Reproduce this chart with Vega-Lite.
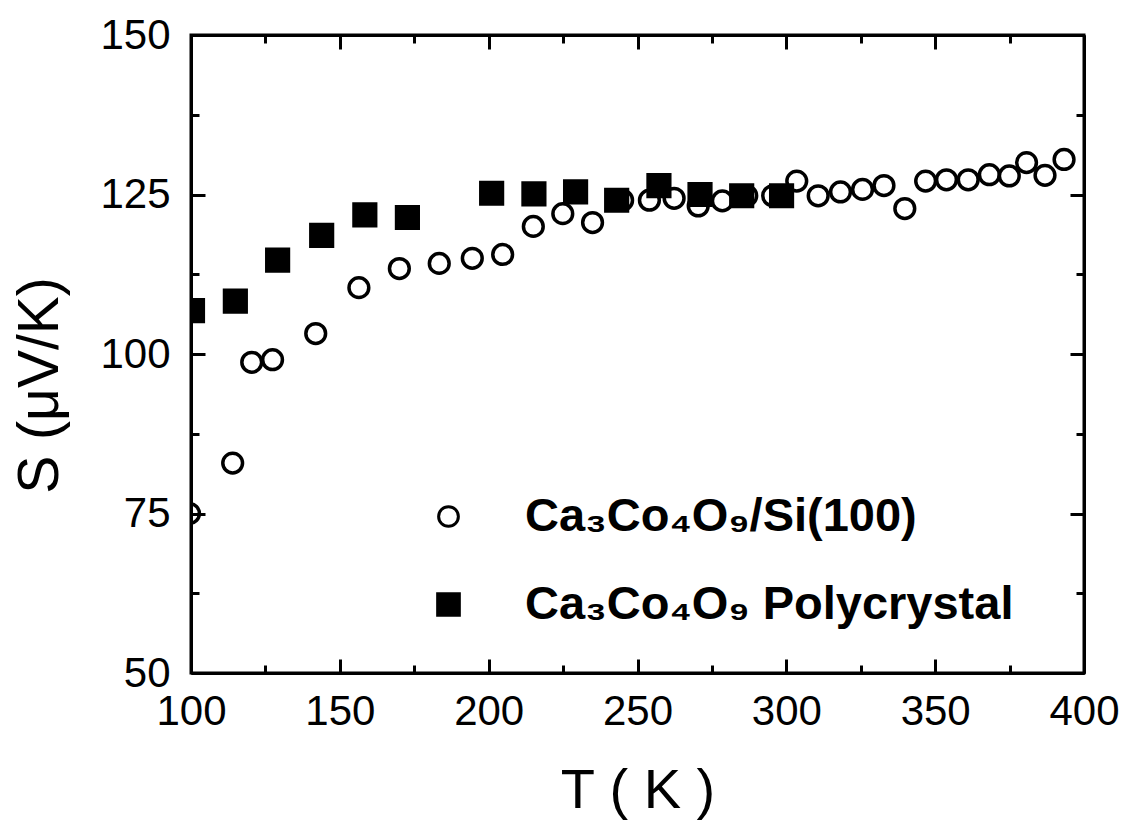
{
  "$schema": "https://vega.github.io/schema/vega-lite/v6.json",
  "width": 893,
  "height": 638,
  "autosize": {"type": "none"},
  "padding": {"left": 191, "top": 35, "right": 44, "bottom": 149},
  "background": "white",
  "config": {
    "view": {"stroke": "black", "strokeWidth": 3},
    "font": "Liberation Sans",
    "axis": {"labelFont": "Liberation Sans", "titleFont": "Liberation Sans"},
    "legend": {"labelFont": "Liberation Sans"}
  },
  "data": {
    "values": [
      {"series": "Ca₃Co₄O₉/Si(100)", "T": 99.5, "S": 75.0},
      {"series": "Ca₃Co₄O₉/Si(100)", "T": 114.0, "S": 82.9},
      {"series": "Ca₃Co₄O₉/Si(100)", "T": 120.4, "S": 98.7},
      {"series": "Ca₃Co₄O₉/Si(100)", "T": 127.4, "S": 99.1},
      {"series": "Ca₃Co₄O₉/Si(100)", "T": 141.9, "S": 103.2},
      {"series": "Ca₃Co₄O₉/Si(100)", "T": 156.4, "S": 110.4},
      {"series": "Ca₃Co₄O₉/Si(100)", "T": 170.0, "S": 113.4},
      {"series": "Ca₃Co₄O₉/Si(100)", "T": 183.4, "S": 114.2},
      {"series": "Ca₃Co₄O₉/Si(100)", "T": 194.5, "S": 115.0},
      {"series": "Ca₃Co₄O₉/Si(100)", "T": 204.7, "S": 115.6},
      {"series": "Ca₃Co₄O₉/Si(100)", "T": 215.0, "S": 120.0},
      {"series": "Ca₃Co₄O₉/Si(100)", "T": 224.9, "S": 122.0},
      {"series": "Ca₃Co₄O₉/Si(100)", "T": 234.9, "S": 120.6},
      {"series": "Ca₃Co₄O₉/Si(100)", "T": 245.0, "S": 124.1},
      {"series": "Ca₃Co₄O₉/Si(100)", "T": 254.0, "S": 124.1},
      {"series": "Ca₃Co₄O₉/Si(100)", "T": 262.3, "S": 124.4},
      {"series": "Ca₃Co₄O₉/Si(100)", "T": 270.4, "S": 123.2},
      {"series": "Ca₃Co₄O₉/Si(100)", "T": 278.5, "S": 124.0},
      {"series": "Ca₃Co₄O₉/Si(100)", "T": 286.7, "S": 124.8},
      {"series": "Ca₃Co₄O₉/Si(100)", "T": 295.4, "S": 124.8},
      {"series": "Ca₃Co₄O₉/Si(100)", "T": 303.5, "S": 127.1},
      {"series": "Ca₃Co₄O₉/Si(100)", "T": 310.7, "S": 124.8},
      {"series": "Ca₃Co₄O₉/Si(100)", "T": 318.2, "S": 125.4},
      {"series": "Ca₃Co₄O₉/Si(100)", "T": 325.6, "S": 125.8},
      {"series": "Ca₃Co₄O₉/Si(100)", "T": 332.8, "S": 126.4},
      {"series": "Ca₃Co₄O₉/Si(100)", "T": 339.8, "S": 122.8},
      {"series": "Ca₃Co₄O₉/Si(100)", "T": 346.8, "S": 127.1},
      {"series": "Ca₃Co₄O₉/Si(100)", "T": 353.8, "S": 127.3},
      {"series": "Ca₃Co₄O₉/Si(100)", "T": 361.1, "S": 127.3},
      {"series": "Ca₃Co₄O₉/Si(100)", "T": 368.2, "S": 128.1},
      {"series": "Ca₃Co₄O₉/Si(100)", "T": 374.9, "S": 127.9},
      {"series": "Ca₃Co₄O₉/Si(100)", "T": 380.7, "S": 130.0},
      {"series": "Ca₃Co₄O₉/Si(100)", "T": 386.9, "S": 128.0},
      {"series": "Ca₃Co₄O₉/Si(100)", "T": 393.3, "S": 130.5},
      {"series": "Ca₃Co₄O₉ Polycrystal", "T": 100.5, "S": 106.8},
      {"series": "Ca₃Co₄O₉ Polycrystal", "T": 114.9, "S": 108.3},
      {"series": "Ca₃Co₄O₉ Polycrystal", "T": 129.1, "S": 114.7},
      {"series": "Ca₃Co₄O₉ Polycrystal", "T": 143.9, "S": 118.6},
      {"series": "Ca₃Co₄O₉ Polycrystal", "T": 158.4, "S": 121.8},
      {"series": "Ca₃Co₄O₉ Polycrystal", "T": 172.7, "S": 121.4},
      {"series": "Ca₃Co₄O₉ Polycrystal", "T": 201.0, "S": 125.2},
      {"series": "Ca₃Co₄O₉ Polycrystal", "T": 215.2, "S": 125.1},
      {"series": "Ca₃Co₄O₉ Polycrystal", "T": 229.2, "S": 125.4},
      {"series": "Ca₃Co₄O₉ Polycrystal", "T": 243.0, "S": 124.1},
      {"series": "Ca₃Co₄O₉ Polycrystal", "T": 257.2, "S": 126.4},
      {"series": "Ca₃Co₄O₉ Polycrystal", "T": 271.0, "S": 125.0},
      {"series": "Ca₃Co₄O₉ Polycrystal", "T": 285.0, "S": 124.8},
      {"series": "Ca₃Co₄O₉ Polycrystal", "T": 298.4, "S": 124.8}
    ]
  },
  "layer": [
    {
      "mark": {"type": "point", "filled": false, "strokeWidth": 3.5, "opacity": 1, "clip": true},
      "encoding": {
        "x": {
          "field": "T", "type": "quantitative",
          "scale": {"domain": [100, 400], "nice": false, "zero": false},
          "axis": {
            "orient": "bottom",
            "values": [100, 125, 150, 175, 200, 225, 250, 275, 300, 325, 350, 375, 400],
            "tickSize": {"condition": {"test": "datum.value % 50 === 0", "value": -14}, "value": -8},
            "labelExpr": "datum.value % 50 === 0 ? datum.label : ''",
            "grid": false,
            "domainColor": "black", "domainWidth": 3,
            "tickColor": "black", "tickWidth": 3,
            "labelFont": "Liberation Sans", "labelFontSize": 42, "labelColor": "black",
            "labelPadding": 32, "labelFlush": false, "labelOverlap": false,
            "title": "T ( K )", "titleFont": "Liberation Sans", "titleFontSize": 56, "titleFontWeight": "normal",
            "titleColor": "black", "titlePadding": 25
          }
        },
        "y": {
          "field": "S", "type": "quantitative",
          "scale": {"domain": [50, 150], "nice": false, "zero": false},
          "axis": {
            "orient": "left",
            "values": [50, 62.5, 75, 87.5, 100, 112.5, 125, 137.5, 150],
            "tickSize": {"condition": {"test": "datum.value % 25 === 0", "value": -14}, "value": -8},
            "labelExpr": "datum.value % 25 === 0 ? datum.label : ''",
            "grid": false,
            "domainColor": "black", "domainWidth": 3,
            "tickColor": "black", "tickWidth": 3,
            "labelFont": "Liberation Sans", "labelFontSize": 42, "labelColor": "black",
            "labelPadding": 35, "labelFlush": false, "labelOverlap": false,
            "title": "S (μV/K)", "titleFont": "Liberation Sans", "titleFontSize": 57, "titleFontWeight": "normal",
            "titleColor": "black", "titlePadding": 30, "titleY": 350
          }
        },
        "shape": {
          "field": "series", "type": "nominal",
          "scale": {"domain": ["Ca₃Co₄O₉/Si(100)", "Ca₃Co₄O₉ Polycrystal"], "range": ["circle", "square"]},
          "legend": {
            "orient": "none", "legendX": 234, "legendY": 458, "title": null,
            "labelFont": "Liberation Sans", "labelFontSize": 47, "labelFontWeight": "bold", "labelColor": "black",
            "labelLimit": 0, "labelOffset": 53, "rowPadding": 40, "symbolStrokeWidth": 3
          }
        },
        "fill": {
          "field": "series", "type": "nominal",
          "scale": {"domain": ["Ca₃Co₄O₉/Si(100)", "Ca₃Co₄O₉ Polycrystal"], "range": ["transparent", "black"]},
          "legend": {
            "orient": "none", "legendX": 234, "legendY": 458, "title": null,
            "labelFont": "Liberation Sans", "labelFontSize": 47, "labelFontWeight": "bold", "labelColor": "black",
            "labelLimit": 0, "labelOffset": 53, "rowPadding": 40, "symbolStrokeWidth": 3
          }
        },
        "stroke": {
          "field": "series", "type": "nominal",
          "scale": {"domain": ["Ca₃Co₄O₉/Si(100)", "Ca₃Co₄O₉ Polycrystal"], "range": ["black", "black"]},
          "legend": {
            "orient": "none", "legendX": 234, "legendY": 458, "title": null,
            "labelFont": "Liberation Sans", "labelFontSize": 47, "labelFontWeight": "bold", "labelColor": "black",
            "labelLimit": 0, "labelOffset": 53, "rowPadding": 40, "symbolStrokeWidth": 3
          }
        },
        "size": {
          "field": "series", "type": "nominal",
          "scale": {"domain": ["Ca₃Co₄O₉/Si(100)", "Ca₃Co₄O₉ Polycrystal"], "range": [390, 470]},
          "legend": {
            "orient": "none", "legendX": 234, "legendY": 458, "title": null,
            "labelFont": "Liberation Sans", "labelFontSize": 47, "labelFontWeight": "bold", "labelColor": "black",
            "labelLimit": 0, "labelOffset": 53, "rowPadding": 40, "symbolStrokeWidth": 3
          }
        }
      }
    },
    {
      "mark": {"type": "point", "opacity": 0},
      "encoding": {
        "x": {
          "field": "T", "type": "quantitative",
          "scale": {"domain": [100, 400], "nice": false, "zero": false},
          "axis": {
            "orient": "top",
            "values": [100, 125, 150, 175, 200, 225, 250, 275, 300, 325, 350, 375, 400],
            "tickSize": {"condition": {"test": "datum.value % 50 === 0", "value": -14}, "value": -8},
            "labels": false, "grid": false, "title": null,
            "domainColor": "black", "domainWidth": 3,
            "tickColor": "black", "tickWidth": 3
          }
        },
        "y": {
          "field": "S", "type": "quantitative",
          "scale": {"domain": [50, 150], "nice": false, "zero": false},
          "axis": {
            "orient": "right",
            "values": [50, 62.5, 75, 87.5, 100, 112.5, 125, 137.5, 150],
            "tickSize": {"condition": {"test": "datum.value % 25 === 0", "value": -14}, "value": -8},
            "labels": false, "grid": false, "title": null,
            "domainColor": "black", "domainWidth": 3,
            "tickColor": "black", "tickWidth": 3
          }
        }
      }
    }
  ],
  "resolve": {"axis": {"x": "independent", "y": "independent"}}
}
